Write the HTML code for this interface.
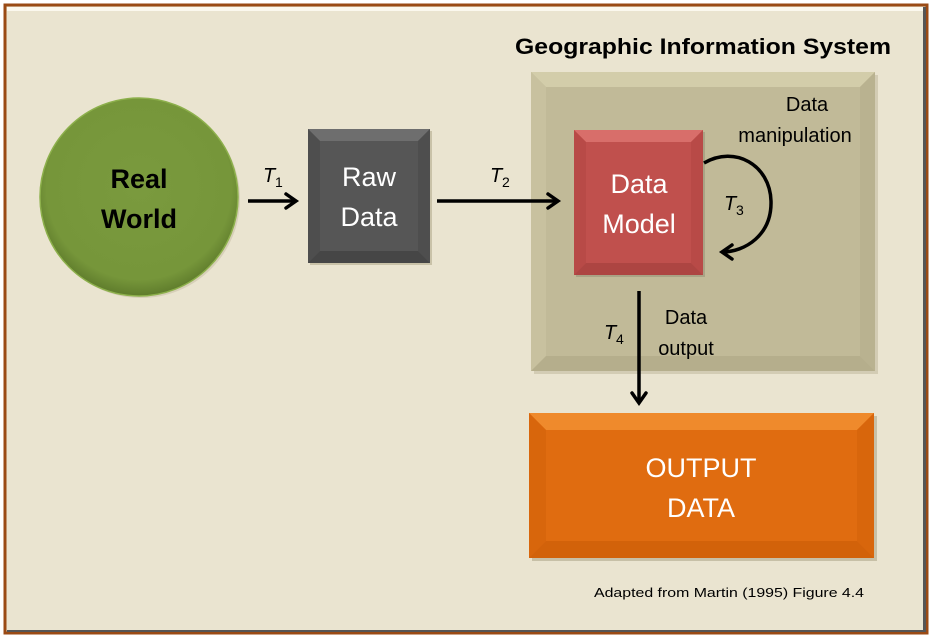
<!DOCTYPE html>
<html><head><meta charset="utf-8"><style>
html,body{margin:0;padding:0;background:#fff;}
svg{display:block;}
text{font-family:"Liberation Sans",sans-serif;}
</style></head><body>
<svg width="932" height="640" viewBox="0 0 932 640" xmlns="http://www.w3.org/2000/svg">
<defs>
<radialGradient id="g" cx="50%" cy="45%" r="55%">
<stop offset="0" stop-color="#7a9a3e"/><stop offset="0.85" stop-color="#76963a"/><stop offset="1" stop-color="#5f7c2c"/>
</radialGradient>
<marker id="a" markerWidth="16" markerHeight="18" refX="12" refY="9" orient="auto" markerUnits="userSpaceOnUse">
<path d="M2,2 L12,9 L2,16" fill="none" stroke="#000" stroke-width="3.5" stroke-linecap="round"/>
</marker>
</defs>
<rect x="0" y="0" width="932" height="640" fill="#fff"/>
<rect x="5" y="5" width="922" height="628" fill="#eae4d0" stroke="#9a4a14" stroke-width="3"/>
<rect x="7" y="7" width="918" height="4" fill="#fbf8ee"/>
<rect x="923" y="7" width="3" height="625" fill="#555"/>
<rect x="7" y="630" width="918" height="2" fill="#555"/>

<!-- Real World -->
<circle cx="141" cy="199" r="99" fill="#c9c2a8" opacity="0.6"/>
<circle cx="139" cy="197" r="99" fill="url(#g)" stroke="#8db04c" stroke-width="1.5"/>
<text x="139" y="188" font-size="27" font-weight="bold" text-anchor="middle" fill="#000">Real</text>
<text x="139" y="228" font-size="27" font-weight="bold" text-anchor="middle" fill="#000">World</text>

<!-- Raw Data -->
<rect x="310" y="131" width="122" height="134" fill="#c9c2a8"/>
<rect x="308" y="129" width="122" height="134" fill="#565656"/>
<polygon points="308,129 430,129 418,141 320,141" fill="#6e6e6e"/>
<polygon points="308,129 320,141 320,251 308,263" fill="#4e4e4e"/>
<polygon points="430,129 418,141 418,251 430,263" fill="#4e4e4e"/>
<polygon points="308,263 320,251 418,251 430,263" fill="#464646"/>
<text x="369" y="186" font-size="27" text-anchor="middle" fill="#fff">Raw</text>
<text x="369" y="226" font-size="27" text-anchor="middle" fill="#fff">Data</text>

<!-- GIS title -->
<text x="515" y="54" font-size="22" font-weight="bold" fill="#000" textLength="376" lengthAdjust="spacingAndGlyphs">Geographic Information System</text>

<!-- GIS box -->
<rect x="534" y="75" width="344" height="299" fill="#c9c2a8" opacity="0.7"/>
<rect x="531" y="72" width="344" height="299" fill="#c2bb98"/>
<polygon points="531,72 875,72 860,87 546,87" fill="#d3cdaa"/>
<polygon points="531,72 546,87 546,356 531,371" fill="#c8c19f"/>
<polygon points="875,72 860,87 860,356 875,371" fill="#b9b290"/>
<polygon points="531,371 546,356 860,356 875,371" fill="#b5ae8c"/>
<rect x="546" y="87" width="314" height="269" fill="#c1ba98"/>

<!-- arrows T1, T2 -->
<line x1="248" y1="201" x2="296" y2="201" stroke="#000" stroke-width="3.5" marker-end="url(#a)"/>
<text x="263" y="182" font-size="20" font-style="italic" fill="#000">T</text>
<text x="275" y="187" font-size="14" fill="#000">1</text>
<line x1="437" y1="201" x2="558" y2="201" stroke="#000" stroke-width="3.5" marker-end="url(#a)"/>
<text x="490" y="182" font-size="20" font-style="italic" fill="#000">T</text>
<text x="502" y="187" font-size="14" fill="#000">2</text>

<!-- Data Model -->
<rect x="576" y="132" width="129" height="145" fill="#9a9478" opacity="0.6"/>
<rect x="574" y="130" width="129" height="145" fill="#c0504d"/>
<polygon points="574,130 703,130 691,142 586,142" fill="#d86e6a"/>
<polygon points="574,130 586,142 586,263 574,275" fill="#b84a47"/>
<polygon points="703,130 691,142 691,263 703,275" fill="#b84a47"/>
<polygon points="574,275 586,263 691,263 703,275" fill="#ad4542"/>
<text x="639" y="193" font-size="27" text-anchor="middle" fill="#fff">Data</text>
<text x="639" y="233" font-size="27" text-anchor="middle" fill="#fff">Model</text>

<!-- T3 loop -->
<path d="M704,163 C735,145 770,165 771,201 C772,235 745,252 722,252" fill="none" stroke="#000" stroke-width="3.5" marker-end="url(#a)"/>
<text x="724" y="210" font-size="20" font-style="italic" fill="#000">T</text>
<text x="736" y="215" font-size="14" fill="#000">3</text>
<text x="807" y="111" font-size="20" text-anchor="middle" fill="#000">Data</text>
<text x="795" y="142" font-size="20" text-anchor="middle" fill="#000">manipulation</text>

<!-- T4 -->
<line x1="639" y1="291" x2="639" y2="403" stroke="#000" stroke-width="3.5" marker-end="url(#a)"/>
<text x="604" y="339" font-size="20" font-style="italic" fill="#000">T</text>
<text x="616" y="344" font-size="14" fill="#000">4</text>
<text x="686" y="324" font-size="20" text-anchor="middle" fill="#000">Data</text>
<text x="686" y="355" font-size="20" text-anchor="middle" fill="#000">output</text>

<!-- Output -->
<rect x="532" y="416" width="345" height="145" fill="#b8b196" opacity="0.7"/>
<rect x="529" y="413" width="345" height="145" fill="#e06c10"/>
<polygon points="529,413 874,413 857,430 546,430" fill="#ef8a2c"/>
<polygon points="529,413 546,430 546,541 529,558" fill="#d8660c"/>
<polygon points="874,413 857,430 857,541 874,558" fill="#d8660c"/>
<polygon points="529,558 546,541 857,541 874,558" fill="#d2620a"/>
<text x="701" y="477" font-size="27" text-anchor="middle" fill="#fff">OUTPUT</text>
<text x="701" y="517" font-size="27" text-anchor="middle" fill="#fff">DATA</text>

<text x="594" y="597" font-size="13" fill="#000" textLength="270" lengthAdjust="spacingAndGlyphs">Adapted from Martin (1995) Figure 4.4</text>
</svg>
</body></html>
